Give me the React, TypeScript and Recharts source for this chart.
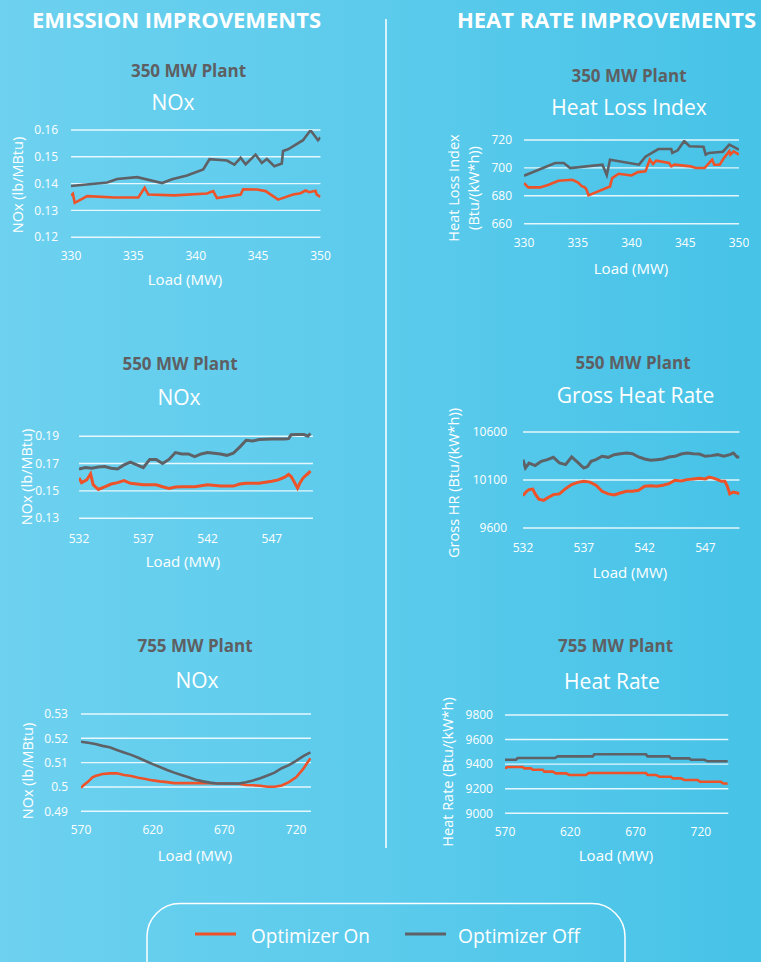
import React from 'react';
import { LineChart, Line, XAxis, YAxis, CartesianGrid } from 'recharts';

// ---------- DATA ----------
// 350 MW plant – NOx (lb/MBtu)
const nox350OnLoad = [330, 330.15, 330.3, 331.3, 333.5, 335.4, 335.9, 336.2, 338.3, 340.9, 341.4, 341.7, 343.6, 343.8, 344.9, 345.6, 346.6, 347.8, 348.4, 348.8, 349.1, 349.6, 349.7, 350];
const nox350On = [0.1356, 0.1362, 0.1328, 0.1353, 0.1348, 0.1348, 0.1384, 0.1359, 0.1356, 0.1363, 0.1372, 0.1346, 0.1359, 0.1379, 0.1378, 0.1372, 0.134, 0.1359, 0.1364, 0.1374, 0.1368, 0.1373, 0.1359, 0.135];
const nox350OffLoad = [330, 332.9, 333.7, 335.3, 337.3, 338.1, 339.3, 340.6, 341.1, 342.5, 343.1, 343.6, 344.0, 344.8, 345.3, 345.7, 346.3, 346.9, 347.0, 347.4, 348.6, 349.2, 349.8, 350];
const nox350Off = [0.1391, 0.1404, 0.1417, 0.1424, 0.1402, 0.1416, 0.143, 0.1453, 0.1491, 0.1486, 0.1471, 0.1496, 0.1472, 0.1508, 0.1477, 0.1492, 0.1465, 0.1475, 0.1522, 0.1528, 0.1562, 0.1599, 0.1562, 0.1572];

// 350 MW plant – Heat Loss Index (Btu/(kW*h))
const hli350OnLoad = [330, 330.4, 331.5, 332.3, 333.2, 334.5, 335.0, 335.4, 335.6, 335.8, 336.0, 338.0, 338.2, 338.8, 340.0, 340.6, 341.3, 341.7, 342.0, 342.3, 343.5, 343.7, 344.0, 345.5, 346.0, 346.8, 347.5, 347.7, 348.2, 348.6, 349.1, 349.2, 349.5, 350];
const hli350On = [689.1, 686.0, 686.0, 687.9, 690.8, 691.5, 689.6, 686.7, 686.3, 684.8, 680.3, 686.7, 692.7, 695.8, 694.6, 697.0, 697.5, 705.9, 702.8, 705.2, 703.5, 701.1, 702.3, 701.1, 699.9, 699.9, 705.9, 702.3, 702.3, 707.1, 711.9, 709.5, 711.9, 709.5];
const hli350OffLoad = [330, 332.9, 333.7, 334.3, 337.3, 337.7, 338.0, 340.7, 341.3, 342.5, 343.7, 343.8, 344.3, 344.9, 345.4, 346.7, 346.9, 347.2, 348.5, 349.1, 350];
const hli350Off = [694.4, 703.5, 703.5, 699.9, 702.3, 694.9, 705.9, 702.3, 708.0, 713.5, 713.5, 710.7, 712.6, 719.3, 715.5, 715.2, 709.5, 710.7, 711.6, 716.7, 713.1];

// 550 MW plant – NOx (lb/MBtu)
const nox550OnLoad = [532, 532.2, 532.6, 532.9, 533.1, 533.5, 534, 534.5, 535, 535.5, 536, 536.5, 537, 538, 538.5, 539, 539.5, 540, 541, 542, 543, 544, 544.5, 545, 546, 547, 547.5, 548, 548.3, 548.5, 548.8, 549, 549.2, 549.4, 549.6, 549.8, 550];
const nox550On = [0.1595, 0.156, 0.158, 0.1625, 0.1545, 0.151, 0.153, 0.155, 0.156, 0.1575, 0.1555, 0.155, 0.1545, 0.1545, 0.153, 0.1518, 0.1528, 0.153, 0.153, 0.1545, 0.1535, 0.1535, 0.155, 0.1555, 0.1555, 0.157, 0.158, 0.16, 0.162, 0.1605, 0.1555, 0.152, 0.156, 0.159, 0.161, 0.1625, 0.1645];
const nox550OffLoad = [532, 532.5, 533, 533.5, 534, 534.5, 535, 535.5, 536, 536.5, 537, 537.5, 538, 538.5, 539, 539.5, 540, 540.5, 541, 541.5, 542, 542.5, 543, 543.5, 544, 544.5, 545, 545.5, 546, 547, 548, 548.3, 548.5, 549, 549.5, 549.8, 550];
const nox550Off = [0.166, 0.167, 0.1665, 0.1675, 0.1678, 0.1665, 0.166, 0.169, 0.171, 0.169, 0.167, 0.173, 0.173, 0.170, 0.173, 0.178, 0.177, 0.177, 0.175, 0.177, 0.178, 0.1775, 0.177, 0.176, 0.1775, 0.182, 0.187, 0.1865, 0.1875, 0.188, 0.188, 0.1882, 0.191, 0.1912, 0.1912, 0.190, 0.192];

// 550 MW plant – Gross Heat Rate (Btu/(kW*h))
const ghr550OnLoad = [532, 532.3, 532.5, 532.8, 533, 533.3, 533.7, 534, 534.5, 535, 535.5, 536, 536.5, 537, 537.5, 538, 538.5, 539, 539.5, 540, 540.5, 541, 541.5, 542, 542.5, 543, 543.5, 544, 544.5, 545, 545.5, 546, 546.5, 547, 547.3, 547.6, 548, 548.3, 548.6, 548.8, 549, 549.3, 549.6, 549.8];
const ghr550On = [9937, 9982, 10000, 10005, 9955, 9900, 9888, 9913, 9948, 9955, 10010, 10052, 10075, 10087, 10078, 10045, 9982, 9955, 9944, 9965, 9982, 9982, 9993, 10035, 10040, 10035, 10045, 10062, 10097, 10090, 10104, 10111, 10118, 10111, 10131, 10122, 10104, 10087, 10087, 10035, 9955, 9975, 9965, 9958];
const ghr550OffLoad = [532, 532.2, 532.5, 533, 533.5, 534, 534.5, 535, 535.5, 536, 536.5, 537, 537.3, 537.6, 538, 538.5, 539, 539.5, 540, 540.5, 541, 541.5, 542, 542.5, 543, 543.5, 544, 544.5, 545, 545.5, 546, 546.5, 547, 547.5, 548, 548.5, 549, 549.3, 549.6, 549.8];
const ghr550Off = [10312, 10225, 10277, 10250, 10294, 10312, 10336, 10277, 10260, 10340, 10284, 10225, 10240, 10294, 10312, 10347, 10336, 10364, 10374, 10381, 10374, 10340, 10319, 10305, 10312, 10319, 10340, 10347, 10371, 10381, 10374, 10371, 10347, 10354, 10364, 10347, 10364, 10381, 10340, 10340];

// 755 MW plant – NOx (lb/MBtu)
const nox755OnLoad = [570, 572, 575, 578, 580, 585, 590, 595, 600, 605, 610, 615, 620, 625, 630, 635, 640, 650, 660, 670, 680, 685, 690, 695, 700, 705, 710, 715, 720, 725, 728, 730];
const nox755On = [0.4997, 0.5008, 0.5022, 0.504, 0.5045, 0.5053, 0.5056, 0.5056, 0.5049, 0.5045, 0.5038, 0.5033, 0.5027, 0.5023, 0.502, 0.5016, 0.5016, 0.5016, 0.5015, 0.5014, 0.5013, 0.5008, 0.5007, 0.5005, 0.5001, 0.5001, 0.5006, 0.502, 0.504, 0.5074, 0.5101, 0.5118];
const nox755OffLoad = [570, 575, 580, 585, 590, 595, 600, 605, 610, 615, 620, 625, 630, 635, 640, 645, 650, 655, 660, 665, 670, 675, 680, 685, 690, 695, 700, 705, 710, 715, 720, 725, 730];
const nox755Off = [0.5186, 0.5182, 0.5177, 0.5169, 0.5163, 0.5152, 0.5142, 0.5132, 0.512, 0.5107, 0.5094, 0.5082, 0.507, 0.5059, 0.5049, 0.504, 0.503, 0.5023, 0.5018, 0.5014, 0.5014, 0.5014, 0.5014, 0.5019, 0.5027, 0.5036, 0.5047, 0.5059, 0.5077, 0.509, 0.5107, 0.5127, 0.5142];

// 755 MW plant – Heat Rate (Btu/(kW*h))
const hr755OnLoad = [570, 572, 583.5, 584.8, 589.9, 591.2, 598.8, 600.1, 606.5, 609.1, 616.7, 619.3, 632, 634.1, 677.9, 679.2, 685.6, 688.2, 697.1, 698.4, 704.8, 707.3, 717.5, 719.3, 735.4, 736.7, 740.5];
const hr755On = [9366, 9377, 9377, 9366, 9366, 9355, 9355, 9339, 9339, 9325, 9325, 9312, 9312, 9328, 9328, 9312, 9312, 9298, 9298, 9284, 9284, 9271, 9271, 9257, 9257, 9244, 9241];
const hr755OffLoad = [570, 578.4, 579.7, 608.3, 610.3, 637.1, 638.4, 677.9, 679.2, 695.8, 697.1, 711.1, 712.4, 722.6, 725.2, 740.5];
const hr755Off = [9436, 9436, 9450, 9450, 9463, 9463, 9480, 9480, 9463, 9463, 9447, 9447, 9436, 9436, 9423, 9423];

// tick labels
const ticks350X = [330, 335, 340, 345, 350];
const ticksNox350Y = [0.12, 0.13, 0.14, 0.15, 0.16];
const ticksHli350Y = [660, 680, 700, 720];
const ticks550X = [532, 537, 542, 547];
const ticksNox550Y = [0.13, 0.15, 0.17, 0.19];
const ticksGhr550Y = [9600, 10100, 10600];
const ticks755X = [570, 620, 670, 720];
const ticksNox755Y = [0.49, 0.5, 0.51, 0.52, 0.53];
const ticksHr755Y = [9000, 9200, 9400, 9600, 9800];

// ---------- STYLE ----------
const ORANGE = '#ee5229';
const GRAY = '#5e6166';
const TITLE_GRAY = '#5e5f62';
const FONT = '"Open Sans", sans-serif';

const zip = (xs: number[], ys: number[]) => xs.map((x, i) => ({ x, y: ys[i] }));

type PanelSpec = {
  left: number; right: number; top: number; bottom: number;
  xDomain: [number, number]; xTicks: number[];
  yDomain: [number, number]; yTicks: number[];
  xGap: number; yGap: number; lw: number;
  on: { x: number; y: number }[];
  off: { x: number; y: number }[];
};

function Panel({ s }: { s: PanelSpec }) {
  const padL = 80, padT = 10, padR = 10, padB = 40;
  const w = s.right - s.left + padL + padR;
  const h = s.bottom - s.top + padT + padB;
  const tick = { fill: '#ffffff', fontSize: 12, fontFamily: FONT };
  return (
    <div style={{ position: 'absolute', left: s.left - padL, top: s.top - padT }}>
      <LineChart width={w} height={h} margin={{ top: padT, right: padR, left: 0, bottom: 0 }}>
        <CartesianGrid vertical={false} horizontalValues={s.yTicks} stroke="#ffffff" strokeOpacity={0.85} strokeWidth={1.4} />
        <XAxis type="number" dataKey="x" domain={s.xDomain} ticks={s.xTicks} interval={0}
          allowDataOverflow axisLine={false} tickLine={false} tickSize={0} tickMargin={s.xGap}
          height={padB} tick={tick} />
        <YAxis type="number" dataKey="y" domain={s.yDomain} ticks={s.yTicks} interval={0}
          allowDataOverflow axisLine={false} tickLine={false} tickSize={0} tickMargin={s.yGap}
          width={padL} tick={tick} />
        <Line data={s.on} dataKey="y" type="linear" stroke={ORANGE} strokeWidth={s.lw} dot={false}
          isAnimationActive={false} />
        <Line data={s.off} dataKey="y" type="linear" stroke={GRAY} strokeWidth={s.lw} dot={false}
          isAnimationActive={false} />
      </LineChart>
    </div>
  );
}

function T({ x, y, size, weight = 400, color = '#ffffff', rotate = false, children }:
  { x: number; y: number; size: number; weight?: number; color?: string; rotate?: boolean; children: React.ReactNode }) {
  return (
    <div style={{
      position: 'absolute', left: x, top: y, whiteSpace: 'nowrap', fontSize: size, fontWeight: weight,
      color, fontFamily: FONT, lineHeight: 1,
      transform: `translate(-50%, -50%)${rotate ? ' rotate(-90deg)' : ''}`,
    }}>{children}</div>
  );
}

const panels: PanelSpec[] = [
  { left: 71, right: 320.5, top: 129.7, bottom: 236.9, xDomain: [330, 350], xTicks: ticks350X,
    yDomain: [0.12, 0.16], yTicks: ticksNox350Y, xGap: 14, yGap: 13, lw: 2.6,
    on: zip(nox350OnLoad, nox350On), off: zip(nox350OffLoad, nox350Off) },
  { left: 523.5, right: 738.5, top: 140.3, bottom: 224, xDomain: [330, 350], xTicks: ticks350X,
    yDomain: [660, 720], yTicks: ticksHli350Y, xGap: 15, yGap: 12, lw: 2.6,
    on: zip(hli350OnLoad, hli350On), off: zip(hli350OffLoad, hli350Off) },
  { left: 79, right: 313, top: 427.5, bottom: 517.7, xDomain: [532, 550.2], xTicks: ticks550X,
    yDomain: [0.13, 0.196], yTicks: ticksNox550Y, xGap: 16, yGap: 20, lw: 3,
    on: zip(nox550OnLoad, nox550On), off: zip(nox550OffLoad, nox550Off) },
  { left: 522.5, right: 739, top: 432.3, bottom: 528.3, xDomain: [532, 549.8], xTicks: ticks550X,
    yDomain: [9600, 10600], yTicks: ticksGhr550Y, xGap: 15, yGap: 16, lw: 3,
    on: zip(ghr550OnLoad, ghr550On), off: zip(ghr550OffLoad, ghr550Off) },
  { left: 81, right: 311, top: 714, bottom: 811.3, xDomain: [570, 730.4], xTicks: ticks755X,
    yDomain: [0.49, 0.53], yTicks: ticksNox755Y, xGap: 14, yGap: 13, lw: 2.6,
    on: zip(nox755OnLoad, nox755On), off: zip(nox755OffLoad, nox755Off) },
  { left: 505, right: 728.3, top: 715, bottom: 813.3, xDomain: [570, 741], xTicks: ticks755X,
    yDomain: [9000, 9800], yTicks: ticksHr755Y, xGap: 14, yGap: 12, lw: 2.6,
    on: zip(hr755OnLoad, hr755On), off: zip(hr755OffLoad, hr755Off) },
];

export default function App() {
  return (
    <div style={{
      position: 'absolute', left: 0, top: 0, width: 761, height: 962, overflow: 'hidden',
      background: 'linear-gradient(90deg, #6dd1ef 0%, #5ccbec 50%, #46c3e7 100%)', fontFamily: FONT,
    }}>
      <svg width={761} height={962} style={{ position: 'absolute', left: 0, top: 0 }}>
        <text x={32} y={27.7} fontFamily={FONT} fontWeight={700} fontSize={21.5} fill="#ffffff"
          textLength={289} lengthAdjust="spacingAndGlyphs">EMISSION IMPROVEMENTS</text>
        <text x={457} y={27.7} fontFamily={FONT} fontWeight={700} fontSize={21.5} fill="#ffffff"
          textLength={299} lengthAdjust="spacingAndGlyphs">HEAT RATE IMPROVEMENTS</text>
        <line x1={386} y1={19} x2={386} y2={848} stroke="#ffffff" strokeWidth={1.5} />
        <rect x={147} y={903.5} width={478} height={100} rx={33} ry={33} fill="none" stroke="#ffffff" strokeWidth={1.5} />
        <line x1={195} y1={934} x2={236} y2={934} stroke={ORANGE} strokeWidth={3} />
        <text x={251} y={943} fontFamily={FONT} fontSize={19.5} fill="#ffffff"
          textLength={119} lengthAdjust="spacingAndGlyphs">Optimizer On</text>
        <line x1={405} y1={934} x2={446} y2={934} stroke={GRAY} strokeWidth={3} />
        <text x={458} y={943} fontFamily={FONT} fontSize={19.5} fill="#ffffff"
          textLength={122} lengthAdjust="spacingAndGlyphs">Optimizer Off</text>
      </svg>

      {panels.map((p, i) => <Panel key={i} s={p} />)}

      {/* chart titles */}
      <T x={188.5} y={70} size={17} weight={700} color={TITLE_GRAY}>350 MW Plant</T>
      <T x={173} y={102} size={21}>NOx</T>
      <T x={629} y={75} size={17} weight={700} color={TITLE_GRAY}>350 MW Plant</T>
      <T x={629} y={107} size={21}>Heat Loss Index</T>
      <T x={180} y={363} size={17} weight={700} color={TITLE_GRAY}>550 MW Plant</T>
      <T x={179} y={397} size={21}>NOx</T>
      <T x={633} y={362} size={17} weight={700} color={TITLE_GRAY}>550 MW Plant</T>
      <T x={635.5} y={395} size={21}>Gross Heat Rate</T>
      <T x={195} y={645} size={17} weight={700} color={TITLE_GRAY}>755 MW Plant</T>
      <T x={197} y={680} size={21}>NOx</T>
      <T x={615.5} y={645} size={17} weight={700} color={TITLE_GRAY}>755 MW Plant</T>
      <T x={612} y={681} size={21}>Heat Rate</T>

      {/* x axis titles */}
      <T x={185} y={279} size={15}>Load (MW)</T>
      <T x={631} y={268} size={15}>Load (MW)</T>
      <T x={183} y={561} size={15}>Load (MW)</T>
      <T x={630} y={572} size={15}>Load (MW)</T>
      <T x={195} y={855} size={15}>Load (MW)</T>
      <T x={616} y={855} size={15}>Load (MW)</T>

      {/* y axis titles */}
      <T x={18} y={185} size={14.5} rotate>NOx (lb/MBtu)</T>
      <T x={454} y={188} size={14.5} rotate>Heat Loss Index</T>
      <T x={474} y={188} size={14.5} rotate>(Btu/(kW*h))</T>
      <T x={27} y={477} size={14.5} rotate>NOx (lb/MBtu)</T>
      <T x={454} y={483} size={14.5} rotate>Gross HR (Btu/(kW*h))</T>
      <T x={28} y={771} size={14.5} rotate>NOx (lb/MBtu)</T>
      <T x={448} y={772} size={14.5} rotate>Heat Rate (Btu/(kW*h)</T>
    </div>
  );
}
